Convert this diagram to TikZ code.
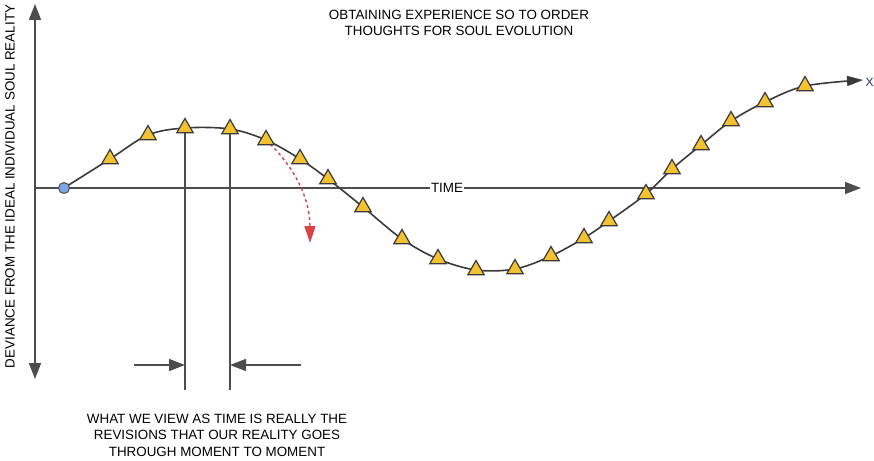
\documentclass[tikz,border=0pt]{standalone}
\usepackage{fontspec}
\setmainfont{Liberation Sans}
\usetikzlibrary{arrows.meta,shapes.geometric,calc}
\definecolor{axisgray}{HTML}{4D4D4D}
\definecolor{curvegray}{HTML}{3A3A3A}
\definecolor{stepgold}{HTML}{F2C230}
\definecolor{dropred}{HTML}{D9444B}
\definecolor{startblue}{HTML}{7EA6E0}
\definecolor{xnavy}{HTML}{1F2F6B}

\begin{document}
\begin{tikzpicture}[x=1pt, y=-1pt, every node/.style={font=\fontsize{13.4}{16.5}\selectfont}, >={Triangle[length=16pt,width=12pt]},
  axis/.style={axisgray, line width=1.6pt},
  path/.style={curvegray, line width=1.6pt},
  stepmark/.style={regular polygon, regular polygon sides=3, minimum size=19pt, inner sep=0pt, fill=stepgold, draw=curvegray, line width=1.2pt},
  startmark/.style={circle, minimum size=11pt, inner sep=0pt, fill=startblue, draw=axisgray, line width=1pt}]
\useasboundingbox (0,0) rectangle (874,460);

% axes
\coordinate (ytop) at (35,4);
\coordinate (ybot) at (35,379);
\coordinate (orig) at (35,188);
\coordinate (xend) at (861,188);
\draw[axis, <->] (ytop) -- (ybot);
\draw[axis, ->] (orig) -- (xend);
\node[fill=white, inner sep=1pt] (timelab) at (447,188) {TIME};

% points of the evolution path
\coordinate (start) at (64,188);
\foreach \i/\px/\py in {1/110/159, 2/148/135, 3/185/128, 4/230/129, 5/266/140, 6/300/159, 7/328/179,
  8/363/207, 9/402/239, 10/438/259, 11/476/270, 12/515/269, 13/551/256, 14/584/238, 15/609/221,
  16/646/194, 17/672/169, 18/701/145, 19/731/121, 20/765/102, 21/805/86}
  \coordinate (p\i) at (\px,\py);
\coordinate (pend) at (863,80);
\draw[path, -{Triangle[length=16pt,width=10pt]}] plot[smooth, tension=0.55] coordinates {(start) (p1) (p2) (p3) (p4) (p5) (p6) (p7) (p8) (p9) (p10)
  (p11) (p12) (p13) (p14) (p15) (p16) (p17) (p18) (p19) (p20) (p21) (pend)};
\node[xnavy, font=\fontsize{12}{14}\selectfont] (xlab) at (869.5,82.5) {X};

% the moment between two revisions
\coordinate (low) at (0,390);
\coordinate (gapl) at (134,365);
\coordinate (gapr) at (301,365);
\draw[axis] (p3) -- (p3 |- low);
\draw[axis] (p4) -- (p4 |- low);
\draw[axis, ->] (gapl) -- (p3 |- gapl);
\draw[axis, ->] (gapr) -- (p4 |- gapr);

\draw[dropred, line width=1.4pt, dash pattern=on 3pt off 3pt, -{Triangle[length=17pt,width=11pt]}]
  (p5) .. controls (296,168) and (310,200) .. (310,243);

\node[startmark] (s0) at (start) {};
\foreach \i in {1,...,21}
  \node[stepmark] (t\i) at (p\i) {};

\node[align=center] (title) at (459,23) {OBTAINING EXPERIENCE SO TO ORDER\\THOUGHTS FOR SOUL EVOLUTION};
\node[rotate=90] (ylab) at (10,186.5) {DEVIANCE FROM THE IDEAL INDIVIDUAL SOUL REALITY};
\node[align=center] (note) at (217,435) {WHAT WE VIEW AS TIME IS REALLY THE\\REVISIONS THAT OUR REALITY GOES\\THROUGH MOMENT TO MOMENT};
\end{tikzpicture}
\end{document}
